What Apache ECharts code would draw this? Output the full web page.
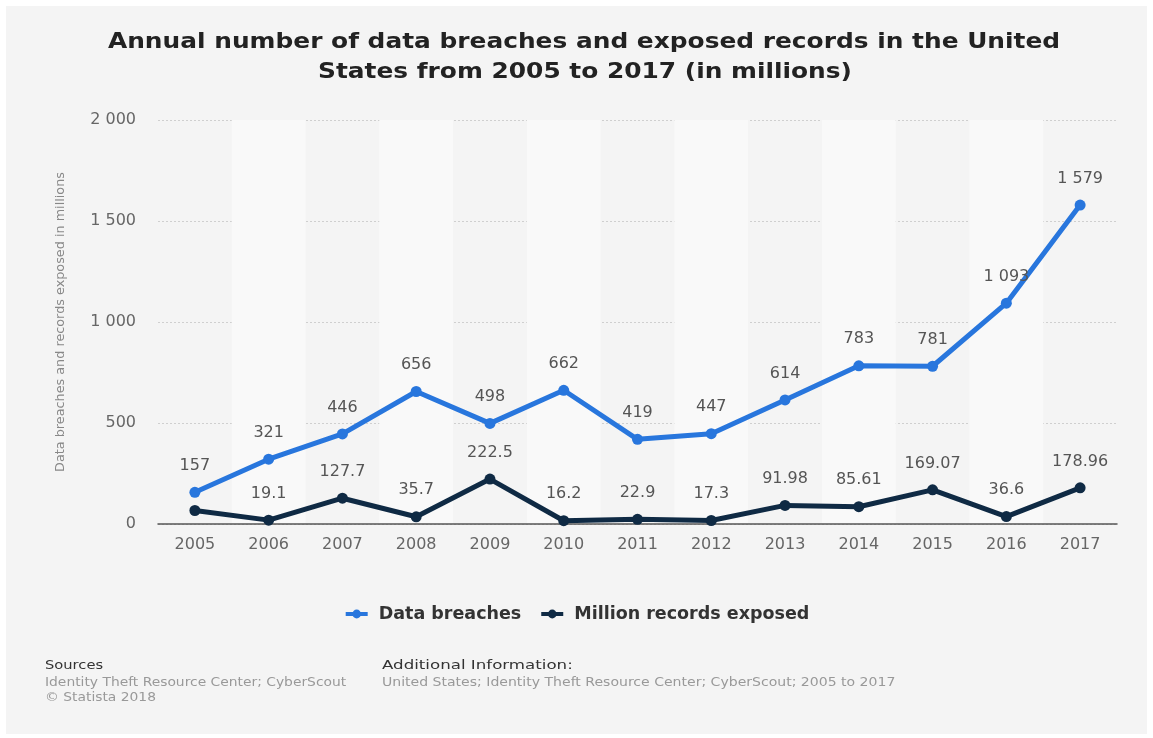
<!DOCTYPE html>
<html>
<head>
<meta charset="utf-8">
<script src="https://cdn.jsdelivr.net/npm/echarts@6/dist/echarts.min.js"></script>
<style>
html,body{margin:0;padding:0;background:#fff;}
#c{width:1153px;height:738px;}
</style>
</head>
<body>
<div id="c"></div>
<script>
var years = ['2005','2006','2007','2008','2009','2010','2011','2012','2013','2014','2015','2016','2017'];
var dataBreaches = [157, 321, 446, 656, 498, 662, 419, 447, 614, 783, 781, 1093, 1579];
var recordsExposed = [66.9, 19.1, 127.7, 35.7, 222.5, 16.2, 22.9, 17.3, 91.98, 85.61, 169.07, 36.6, 178.96];
var hiddenRecordLabels = ['2005'];
var yTicks = [0, 500, 1000, 1500, 2000];
var titleLines = ['Annual number of data breaches and exposed records in the United', 'States from 2005 to 2017 (in millions)'];

var FONT = '"DejaVu Sans", sans-serif';
function fmtNum(v){
  var s = String(v);
  var parts = s.split('.');
  parts[0] = parts[0].replace(/\B(?=(\d{3})+(?!\d))/g, ' ');
  return parts.join('.');
}

var chart = echarts.init(document.getElementById('c'), null, {renderer:'canvas'});
var labelCommon = {show:true, position:'top', distance:13, fontFamily:FONT, fontSize:16, color:'#555',
  formatter:function(p){return fmtNum(p.value);}};

function txt(x, y, text, font, fill, sx, align){
  return {type:'text', x:x, y:y, scaleX:sx, silent:true,
    style:{text:text, font:font, fill:fill, textAlign:align||'left', textVerticalAlign:'middle'}};
}

chart.setOption({
  backgroundColor:'#ffffff',
  animation:false,
  graphic:[
    {type:'rect', z:-10, silent:true, shape:{x:6,y:6,width:1141,height:728}, style:{fill:'#f4f4f4'}},
    txt(584, 42, titleLines[0], 'bold 22px '+FONT, '#222', 1.13, 'center'),
    txt(585, 72, titleLines[1], 'bold 22px '+FONT, '#222', 1.13, 'center'),
    txt(45, 666, 'Sources', '13px '+FONT, '#333', 1.13),
    txt(45, 683, 'Identity Theft Resource Center; CyberScout', '13px '+FONT, '#999', 1.065),
    txt(45, 698, '© Statista 2018', '13px '+FONT, '#999', 1.065),
    txt(382, 666, 'Additional Information:', '13px '+FONT, '#333', 1.28),
    txt(382, 683, 'United States; Identity Theft Resource Center; CyberScout; 2005 to 2017', '13px '+FONT, '#999', 1.08)
  ],
  legend:{
    top:600, left:'center',
    itemWidth:22, itemHeight:11, itemGap:18,
    lineStyle:{width:4},
    textStyle:{fontFamily:FONT, fontWeight:'bold', fontSize:17.5, color:'#333', padding:[0,0,0,6]},
    data:['Data breaches','Million records exposed']
  },
  grid:{left:158, right:36, top:120, bottom:214, containLabel:false},
  xAxis:{
    type:'category', data:years, boundaryGap:true,
    axisLine:{show:true, lineStyle:{color:'#555', width:1.5}},
    axisTick:{show:false},
    axisLabel:{fontFamily:FONT, fontSize:16, color:'#666', margin:13},
    splitLine:{show:false},
    splitArea:{show:true, areaStyle:{color:['rgba(0,0,0,0)','#f9f9f9']}}
  },
  yAxis:{
    type:'value', min:yTicks[0], max:yTicks[yTicks.length-1], interval:500,
    name:'Data breaches and records exposed in millions',
    nameLocation:'middle', nameGap:91, nameRotate:90,
    nameTextStyle:{fontFamily:FONT, fontSize:12.8, color:'#888'},
    axisLine:{show:false}, axisTick:{show:false},
    axisLabel:{fontFamily:FONT, fontSize:16, color:'#666', margin:22, formatter:function(v){return fmtNum(v);}},
    splitLine:{show:true, lineStyle:{color:'#cfcfcf', type:[2,2], width:1}}
  },
  series:[
    {name:'Data breaches', type:'line', data:dataBreaches, color:'#2876dd',
     symbol:'circle', symbolSize:11, lineStyle:{width:5, color:'#2876dd'}, itemStyle:{color:'#2876dd'},
     label:labelCommon, z:3},
    {name:'Million records exposed', type:'line',
     data:recordsExposed.map(function(v,i){
       return hiddenRecordLabels.indexOf(years[i])>=0 ? {value:v, label:{show:false}} : v;
     }),
     color:'#0f2a44',
     symbol:'circle', symbolSize:11, lineStyle:{width:5, color:'#0f2a44'}, itemStyle:{color:'#0f2a44'},
     label:labelCommon, z:2}
  ]
});
</script>
</body>
</html>
